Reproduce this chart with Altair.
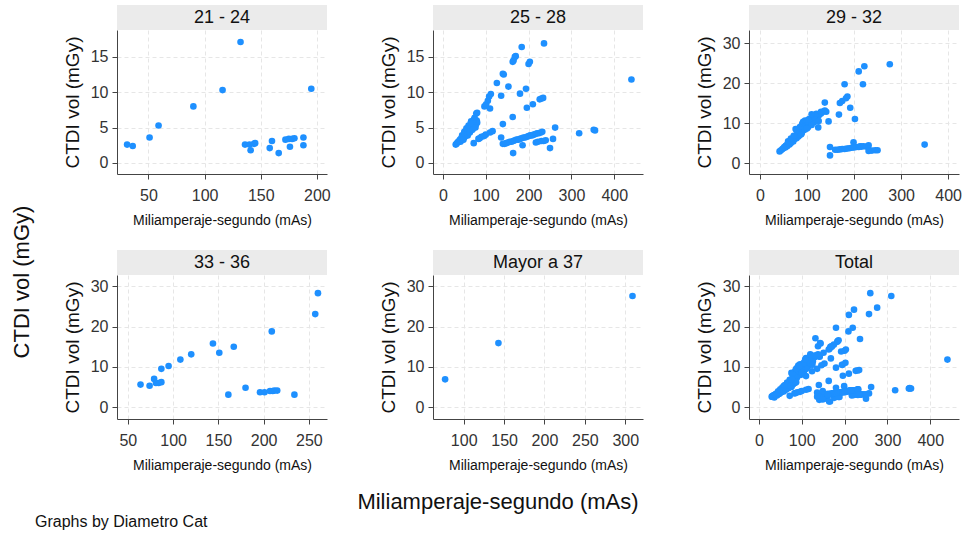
import altair as alt
import pandas as pd

FONT = "Liberation Sans"
BLUE = "#1e90ff"

groups = ["21 - 24", "25 - 28", "29 - 32", "33 - 36", "Mayor a 37", "Total"]

# 21 - 24
x_g1 = [31, 36, 51, 59, 90, 116, 132, 195, 136, 140, 141, 144, 145, 158, 160, 166,
        172, 175, 176, 178, 180, 188, 188]
y_g1 = [2.6, 2.4, 3.6, 5.3, 8.0, 10.3, 17.1, 10.5, 2.6, 2.6, 1.8, 2.7, 2.8, 2.1, 3.1, 1.4,
        3.3, 3.4, 2.3, 3.4, 3.5, 3.6, 2.5]

# 25 - 28
x_g2 = [30, 32, 34, 36, 38, 40, 41, 43, 44, 46, 47, 49, 50, 52, 53, 55, 56, 58, 59, 61,
        62, 64, 65, 67, 68, 70, 71, 73, 75, 77, 79, 80, 66, 72, 74, 78, 80,
        45, 50, 55, 60, 65, 48, 58, 63, 69, 76,
        97, 101, 105, 108, 112, 110,
        126, 136, 142, 140, 153, 163, 165, 168, 170, 184, 236, 200, 203, 194, 180, 196,
        210, 226, 230, 234, 163, 140,
        72, 83, 86, 90, 96, 100, 110, 116, 136,
        140, 144, 148, 152, 156, 160, 164, 168, 172, 176, 180, 184, 188, 192, 196, 200,
        204, 208, 212, 216, 220, 224, 228, 232,
        217, 222, 230, 235, 240, 257, 262, 250, 186, 164, 318, 352, 355, 440]
y_g2 = [2.6, 2.7, 2.9, 3.0, 3.1, 3.3, 3.0, 3.5, 3.2, 3.7, 3.4, 3.9, 3.6, 4.1, 3.8, 4.3,
        4.0, 4.6, 4.2, 4.8, 4.4, 5.0, 4.6, 5.3, 4.9, 5.5, 5.1, 5.7, 5.9, 5.4, 6.0, 5.7,
        5.9, 6.1, 6.4, 7.0, 7.1,
        3.9, 4.4, 4.9, 5.3, 5.6, 3.3, 3.9, 4.3, 4.7, 5.0,
        8.0, 8.3, 8.8, 9.4, 9.75, 7.7,
        11.3, 9.5, 12.5, 12.6, 10.8, 14.3, 14.5, 15.0, 15.1, 16.4, 16.9, 14.0, 14.3, 10.5,
        9.8, 7.8, 8.3, 9.0, 9.1, 9.2, 6.5, 5.5,
        2.8, 3.4, 3.5, 3.7, 3.8, 4.0, 4.3, 4.5, 3.6,
        2.7, 2.7, 2.8, 2.9, 3.0, 3.0, 3.1, 3.2, 3.3, 3.3, 3.4, 3.5, 3.6, 3.6, 3.7, 3.8,
        3.9, 3.9, 4.0, 4.1, 4.2, 4.2, 4.3, 4.4,
        2.9, 3.0, 3.1, 3.1, 3.2, 3.4, 5.0, 2.1, 2.5, 1.4, 4.2, 4.7, 4.6, 11.8]

# 29 - 32
x_g3 = [42, 45, 48, 50, 52, 54, 55, 57, 58, 60, 62, 63, 65, 66, 68, 70, 71, 72, 74, 75,
        77, 78, 80, 81, 82, 84, 85, 86, 88, 89, 90, 92, 94, 95, 97, 100, 102, 104, 106,
        108, 110, 113, 115, 118, 120, 123, 126, 130, 134, 138, 141,
        60, 66, 72, 85, 90, 95, 105, 115, 120, 130, 125, 110, 100, 82, 88,
        76, 78, 92, 96, 100, 103, 110, 124, 146, 138, 168, 170, 175, 183, 186, 180, 192,
        202, 210, 219, 222, 276, 350,
        149, 149, 160, 165, 170, 175, 180, 185, 190, 195, 199, 200, 205, 210, 213, 216,
        220, 226, 231, 231, 238, 245, 250]
y_g3 = [2.9, 3.2, 3.5, 3.7, 4.0, 3.9, 4.3, 4.5, 4.2, 4.8, 5.0, 4.6, 5.3, 5.0, 5.6, 5.9,
        5.4, 6.2, 6.0, 6.5, 6.8, 6.2, 7.0, 7.3, 6.6, 7.6, 7.0, 7.9, 8.2, 7.5, 8.5, 8.1,
        8.8, 8.3, 9.1, 9.4, 8.9, 9.8, 10.0, 9.5, 10.3, 10.6, 10.2, 11.0, 11.3, 11.6, 12.0,
        12.4, 12.8, 13.1, 12.8,
        5.4, 6.1, 6.8, 9.0, 9.8, 10.2, 11.0, 11.5, 12.3, 12.8, 10.5, 9.5, 8.6, 7.8, 7.2,
        8.5, 8.2, 10.3, 10.6, 10.5, 10.8, 12.2, 8.9, 10.4, 15.1, 12.1, 15.0, 15.5, 16.2,
        16.6, 19.7, 13.8, 11.0, 22.9, 19.7, 24.2, 24.7, 4.6,
        4.0, 1.9, 3.3, 3.3, 3.4, 3.5, 3.5, 3.6, 3.7, 3.8, 5.2, 3.9, 4.0, 4.0, 4.2, 4.1,
        4.2, 4.1, 4.4, 3.0, 3.1, 3.2, 3.2]

# 33 - 36
x_g4 = [64, 74, 79, 81, 84, 87, 87, 95, 108, 120, 144, 151, 167, 161, 180, 196, 201,
        207, 210, 212, 215, 209, 234, 257, 260]
y_g4 = [5.6, 5.3, 7.0, 6.0, 6.0, 6.2, 9.5, 10.2, 11.8, 13.1, 15.8, 13.5, 15.0, 3.1, 4.8,
        3.7, 3.7, 4.0, 4.0, 4.1, 4.1, 18.8, 3.1, 23.1, 28.3]

# Mayor a 37
x_g5 = [77, 143, 309]
y_g5 = [6.9, 15.9, 27.6]

xs = [x_g1, x_g2, x_g3, x_g4, x_g5]
ys = [y_g1, y_g2, y_g3, y_g4, y_g5]
x_tot = [v for g in xs for v in g]
y_tot = [v for g in ys for v in g]
xs.append(x_tot)
ys.append(y_tot)

x_domains = [[22, 209], [-23, 467], [-23, 423], [38, 270], [62, 322], [-23, 467]]
y_domains = [[-1.56, 18.8], [-1.56, 18.8], [-2.75, 33.25], [-2.95, 32.8], [-2.95, 32.8], [-2.95, 32.8]]
x_ticks = [[50, 100, 150, 200], [0, 100, 200, 300, 400], [0, 100, 200, 300, 400],
           [50, 100, 150, 200, 250], [100, 150, 200, 250, 300], [0, 100, 200, 300, 400]]
y_ticks = [[0, 5, 10, 15], [0, 5, 10, 15], [0, 10, 20, 30], [0, 10, 20, 30],
           [0, 10, 20, 30], [0, 10, 20, 30]]

W, H = 210, 144
STRIP = 25


def text_layer(label, x, y, size, align="center", angle=0):
    df = pd.DataFrame({"t": [label]})
    return alt.Chart(df).mark_text(
        font=FONT, fontSize=size, color="#111", align=align, baseline="middle", angle=angle
    ).encode(x=alt.value(x), y=alt.value(y), text="t:N")


panels = []
for i, g in enumerate(groups):
    df = pd.DataFrame({"mas": xs[i], "ctdi": ys[i]})
    pts = alt.Chart(df).mark_circle(size=44, color=BLUE, opacity=1).encode(
        x=alt.X("mas:Q",
                scale=alt.Scale(domain=x_domains[i], nice=False, zero=False),
                axis=alt.Axis(values=x_ticks[i], title="Miliamperaje-segundo (mAs)")),
        y=alt.Y("ctdi:Q",
                scale=alt.Scale(domain=y_domains[i], nice=False, zero=False),
                axis=alt.Axis(values=y_ticks[i], title="CTDI vol (mGy)")),
    )
    hdr = pd.DataFrame({"label": [g]})
    strip = alt.Chart(hdr).mark_rect(color="#ebebeb").encode(
        x=alt.value(0), x2=alt.value(W), y=alt.value(-STRIP), y2=alt.value(0))
    stxt = alt.Chart(hdr).mark_text(font=FONT, fontSize=18, color="#111",
                                    baseline="middle", align="center").encode(
        x=alt.value(W / 2), y=alt.value(-STRIP / 2), text="label:N")
    layers = [pts, strip, stxt]
    if i == 3:
        anchor = alt.Chart(pd.DataFrame({"a": [0]})).mark_rect(opacity=0).encode(
            x=alt.value(-117), x2=alt.value(-116), y=alt.value(-275), y2=alt.value(-274))
        layers += [
            anchor,
            text_layer("CTDI vol (mGy)", -95, 7, 22, angle=270),
            text_layer("Miliamperaje-segundo (mAs)", 381, 227, 22),
            text_layer("Graphs by Diametro Cat", -82, 247, 16, align="left"),
        ]
    panels.append(alt.layer(*layers).properties(width=W, height=H))

chart = alt.concat(
    *panels, columns=3, spacing={"row": 101, "column": 106}, bounds="flush"
).resolve_scale(x="independent", y="independent").properties(
    padding=0, background="white"
).configure_view(stroke=None).configure_axis(
    domainColor="#444", tickColor="#444", tickSize=5, domainWidth=1, tickWidth=1,
    labelFont=FONT, labelFontSize=16, labelColor="#333", labelFlush=False,
    labelOverlap=False,
    titleFont=FONT, titleFontWeight="normal", titleColor="#111",
    gridColor="#e6e6e6", gridDash=[4, 3], gridWidth=1,
).configure_axisX(
    labelPadding=8, titleFontSize=14, titlePadding=10
).configure_axisY(
    labelPadding=4, titleFontSize=19, titlePadding=8
)

chart.save("out.html", embed_options={"renderer": "svg", "actions": False})
